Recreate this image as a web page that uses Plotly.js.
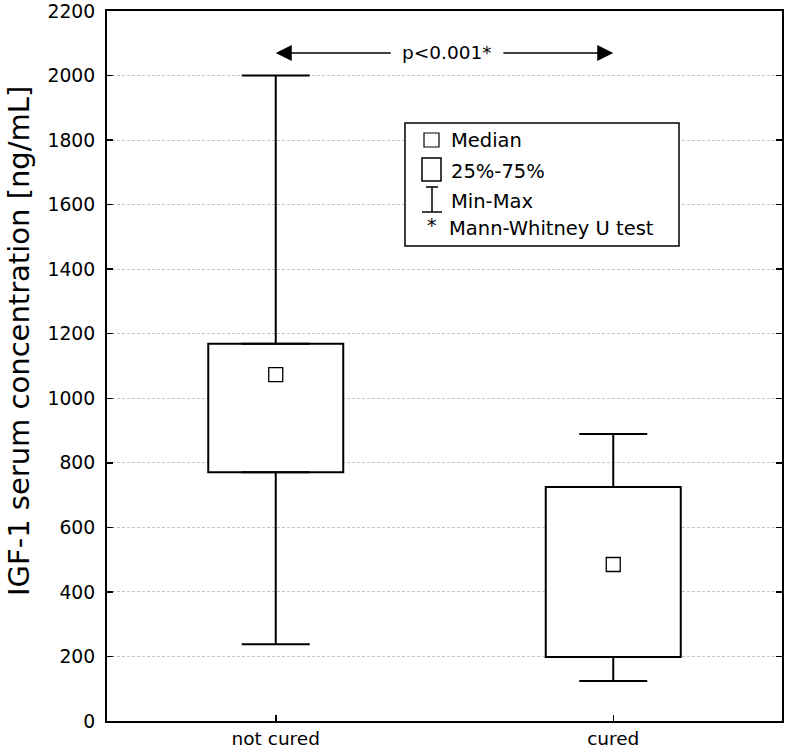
<!DOCTYPE html>
<html>
<head>
<meta charset="utf-8">
<script src="https://cdn.plot.ly/plotly-3.0.1.min.js"></script>
<style>html,body{margin:0;padding:0;background:#fff;}#chart{width:786px;height:752px;}</style>
</head>
<body>
<div id="chart"></div>
<script>
// ---- data ----
const categories = ['not cured', 'cured'];
const minValues = [238, 124];
const q1Values = [771, 198];
const medianValues = [1073, 485];
const q3Values = [1169, 725];
const maxValues = [2000, 889];
const yTickValues = [0, 200, 400, 600, 800, 1000, 1200, 1400, 1600, 1800, 2000, 2200];
const yTitle = 'IGF-1 serum concentration [ng/mL]';
const pText = 'p<0.001*';
const legendLabels = ['Median', '25%-75%', 'Min-Max', 'Mann-Whitney U test'];

// ---- layout geometry ----
const W = 786, H = 752, ML = 107, MR = 4, MT = 11, MB = 31;
const PW = W - ML - MR, PH = H - MT - MB;
const px = p => (p - ML) / PW;          // pixel x -> paper x
const py = p => (H - MB - p) / PH;       // pixel y -> paper y
const FONT = 'DejaVu Sans, Arial, sans-serif';

const boxTrace = {
  type: 'bar', x: categories,
  base: q1Values,
  y: q3Values.map((v, i) => v - q1Values[i]),
  width: 0.4,
  marker: {color: '#ffffff', line: {color: '#000', width: 2}},
  hoverinfo: 'skip', showlegend: false
};
const upperWhisker = {
  type: 'scatter', mode: 'markers', x: categories, y: q3Values,
  marker: {opacity: 0, size: 1},
  error_y: {type: 'data', symmetric: false,
    array: maxValues.map((v, i) => v - q3Values[i]),
    arrayminus: q3Values.map(() => 0),
    width: 34, thickness: 2, color: '#000'},
  hoverinfo: 'skip', showlegend: false
};
const lowerWhisker = {
  type: 'scatter', mode: 'markers', x: categories, y: q1Values,
  marker: {opacity: 0, size: 1},
  error_y: {type: 'data', symmetric: false,
    array: q1Values.map(() => 0),
    arrayminus: q1Values.map((v, i) => v - minValues[i]),
    width: 34, thickness: 2, color: '#000'},
  hoverinfo: 'skip', showlegend: false
};
const medianTrace = {
  type: 'scatter', mode: 'markers', x: categories, y: medianValues,
  marker: {symbol: 'square-open', size: 14, color: '#000', line: {width: 1.3, color: '#000'}},
  hoverinfo: 'skip', showlegend: false
};

const arrowY = 2070;
const shapes = [
  {type: 'rect', xref: 'paper', yref: 'paper', x0: px(405), x1: px(679), y0: py(246), y1: py(123),
   line: {color: '#000', width: 1.5}, fillcolor: '#ffffff'},
  {type: 'rect', xref: 'paper', yref: 'paper', x0: px(424), x1: px(439), y0: py(147), y1: py(133),
   line: {color: '#000', width: 1.2}, fillcolor: '#ffffff'},
  {type: 'rect', xref: 'paper', yref: 'paper', x0: px(422), x1: px(441), y0: py(181), y1: py(158),
   line: {color: '#000', width: 1.5}, fillcolor: '#ffffff'},
  {type: 'line', xref: 'paper', yref: 'paper', x0: px(432), x1: px(432), y0: py(212), y1: py(187),
   line: {color: '#000', width: 1.5}},
  {type: 'line', xref: 'paper', yref: 'paper', x0: px(426), x1: px(438), y0: py(187), y1: py(187),
   line: {color: '#000', width: 1.5}},
  {type: 'line', xref: 'paper', yref: 'paper', x0: px(422), x1: px(442), y0: py(212), y1: py(212),
   line: {color: '#000', width: 1.5}}
];

const legendText = (t, xp, yp) => ({xref: 'paper', yref: 'paper', x: px(xp), y: py(yp),
  xanchor: 'left', yanchor: 'middle', text: t, showarrow: false,
  font: {family: FONT, size: 19.5, color: '#000'}});

const annotations = [
  {xref: 'paper', yref: 'paper', x: px(19), y: py(341), xanchor: 'center', yanchor: 'middle',
   text: yTitle, textangle: -90, showarrow: false, font: {family: FONT, size: 29, color: '#000'}},
  {x: 0.505, y: arrowY, xref: 'x', yref: 'y', text: pText, showarrow: false,
   font: {family: FONT, size: 18.5, color: '#000'}},
  {x: 0, y: arrowY, xref: 'x', yref: 'y', ax: 0.345, ay: arrowY, axref: 'x', ayref: 'y', text: '',
   showarrow: true, arrowhead: 2, arrowsize: 2, arrowwidth: 1.6, arrowcolor: '#000', standoff: 0},
  {x: 1, y: arrowY, xref: 'x', yref: 'y', ax: 0.67, ay: arrowY, axref: 'x', ayref: 'y', text: '',
   showarrow: true, arrowhead: 2, arrowsize: 2, arrowwidth: 1.6, arrowcolor: '#000', standoff: 0},
  legendText(legendLabels[0], 449, 140),
  legendText(legendLabels[1], 449, 171),
  legendText(legendLabels[2], 449, 202),
  {xref: 'paper', yref: 'paper', x: px(432), y: py(225), xanchor: 'center', yanchor: 'middle',
   text: '*', showarrow: false, font: {family: FONT, size: 19, color: '#000'}},
  legendText(legendLabels[3], 447, 228)
];

const layout = {
  width: W, height: H,
  margin: {l: ML, r: MR, t: MT, b: MB, pad: 0},
  paper_bgcolor: '#fff', plot_bgcolor: '#fff',
  showlegend: false,
  font: {family: FONT, size: 18, color: '#000'},
  xaxis: {
    type: 'category', categoryarray: categories, range: [-0.5, 1.5],
    showline: true, linecolor: '#000', linewidth: 2, mirror: true,
    ticks: 'inside', ticklen: 6, tickwidth: 1.5, tickcolor: '#000',
    showgrid: false, zeroline: false,
    tickfont: {family: FONT, size: 18.5, color: '#000'}
  },
  yaxis: {
    range: [0, 2200], tickvals: yTickValues,
    showline: true, linecolor: '#000', linewidth: 2, mirror: 'ticks',
    ticks: 'inside', ticklen: 6, tickwidth: 1.5, tickcolor: '#000',
    ticklabelstandoff: 6,
    showgrid: true, gridcolor: '#c4c4c4', gridwidth: 1, griddash: '3px,2px',
    zeroline: false,
    tickfont: {family: FONT, size: 18.8, color: '#000'}
  },
  shapes: shapes,
  annotations: annotations
};

Plotly.newPlot('chart', [boxTrace, upperWhisker, lowerWhisker, medianTrace], layout,
  {staticPlot: true, displayModeBar: false});
</script>
</body>
</html>
